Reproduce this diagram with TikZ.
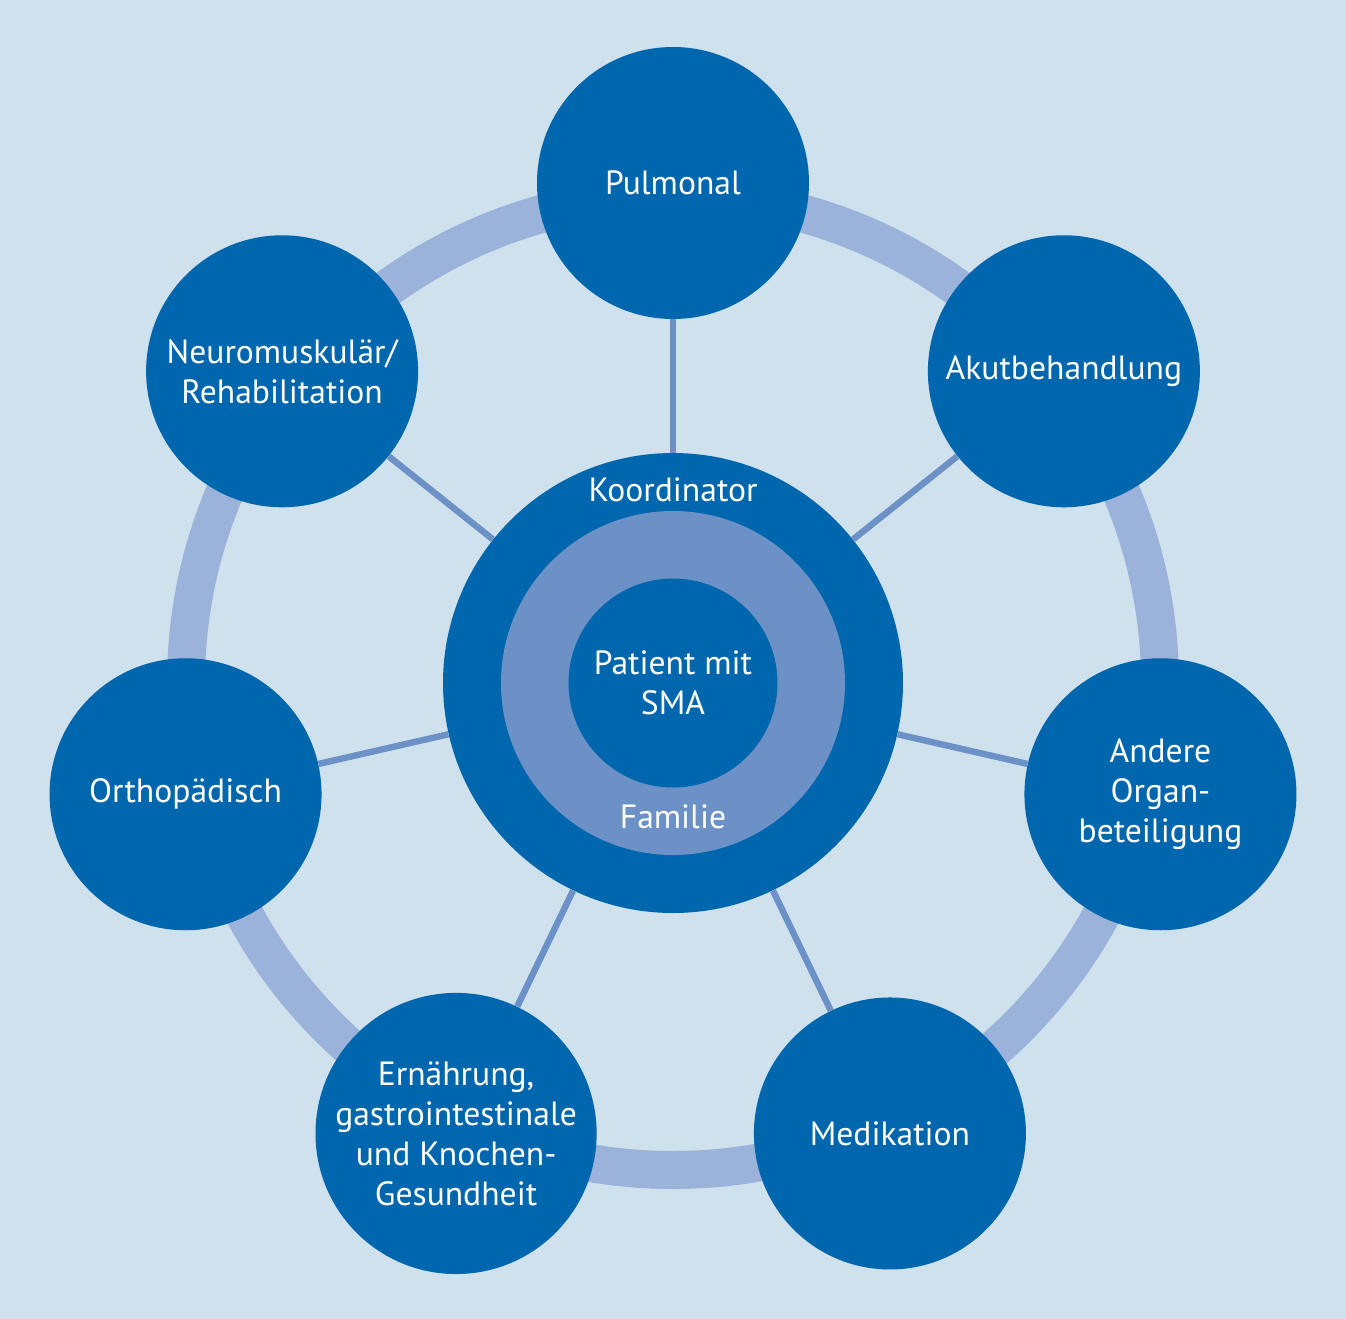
\documentclass[tikz,border=0pt]{standalone}
\usepackage{fontspec}
\setmainfont{PT Sans}
\definecolor{bgc}{HTML}{CFE1ED}
\definecolor{darkc}{HTML}{0066AE}
\definecolor{midc}{HTML}{6C91C6}
\definecolor{ringc}{HTML}{9BB3DA}
\definecolor{spokec}{HTML}{6C91C6}
\tikzset{
  outer/.style={circle, fill=darkc, minimum size=136pt, inner sep=0pt, text=white, align=center, font=\fontsize{16.8}{20}\selectfont},
  spokeline/.style={draw=spokec, line width=3.2pt},
  lbl/.style={text=white, inner sep=0pt, font=\fontsize{16.8}{20}\selectfont}
}
\begin{document}
\begin{tikzpicture}[x=0.5pt,y=-0.5pt]
\fill[bgc] (0,0) rectangle (1346,1319);
\useasboundingbox (0,0) rectangle (1346,1319);
\begin{scope}[shift={(673,683)}]
\draw[ringc, line width=19pt] (0,0) circle[radius=487];
\node[circle, fill=darkc, minimum size=230pt, inner sep=0pt] (coord) at (0,0) {};
\node[circle, fill=midc, minimum size=172pt, inner sep=0pt] (fam) at (0,0) {};
\node[outer, minimum size=104.5pt] (pat) at (0,0) {Patient mit\\SMA};
\node[lbl, anchor=base] (koordlbl) at (0,-182) {Koordinator};
\node[lbl, anchor=base] (famlbl) at (0,145) {Familie};
\node[outer] (pul) at (-90:500) {Pulmonal};
\node[outer] (aku) at (-38.571:500) {Akutbehandlung};
\node[outer] (and) at (12.857:500) {Andere\\Organ-\\beteiligung};
\node[outer] (med) at (64.286:500) {Medikation};
\node[outer] (ern) at (115.714:500) {Ernährung,\\gastrointestinale\\und Knochen-\\Gesundheit};
\node[outer] (ort) at (167.143:500) {Orthopädisch};
\node[outer] (neu) at (-141.429:500) {Neuromuskulär/\\Rehabilitation};
\foreach \n in {pul,aku,and,med,ern,ort,neu}
  \draw[spokeline] (coord) -- (\n);
\end{scope}
\end{tikzpicture}
\end{document}
